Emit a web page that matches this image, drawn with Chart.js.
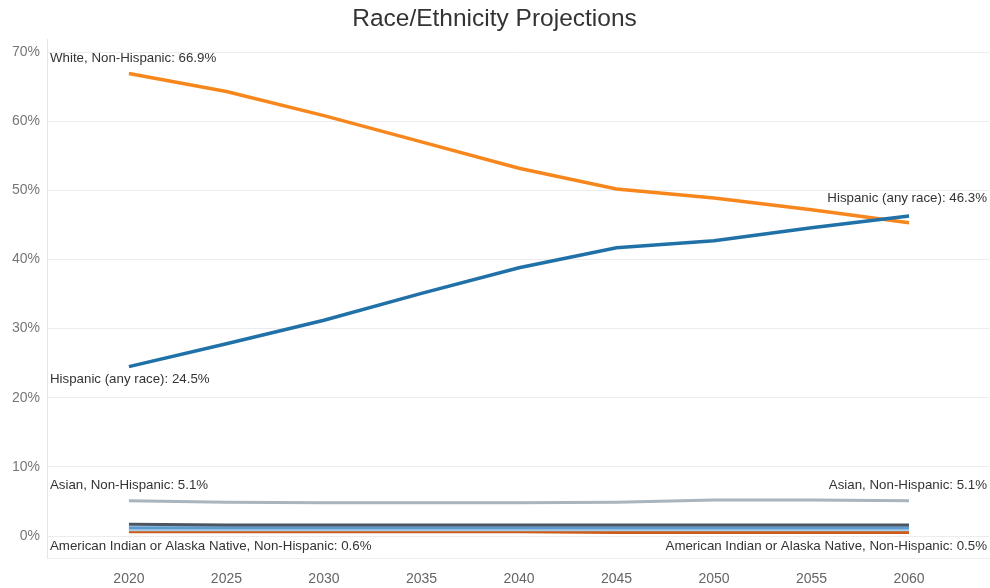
<!DOCTYPE html>
<html>
<head>
<meta charset="utf-8">
<script src="https://cdn.jsdelivr.net/npm/chart.js@4.4.1/dist/chart.umd.min.js"></script>
<style>
  body { margin: 0; background: #fff; }
</style>
</head>
<body>
<canvas id="chart" width="990" height="588"></canvas>
<script>
// 年（5年ごと）
const years = [2020, 2025, 2030, 2035, 2040, 2045, 2050, 2055, 2060];
const yTicks = [0, 10, 20, 30, 40, 50, 60, 70];

// 各グループの割合（%）
const white    = [66.9, 64.3, 60.8, 57.0, 53.2, 50.2, 48.9, 47.2, 45.3];
const hispanic = [24.5, 27.8, 31.2, 35.1, 38.8, 41.7, 42.7, 44.6, 46.3];
const asian    = [5.1, 4.9, 4.8, 4.8, 4.8, 4.9, 5.2, 5.2, 5.1];
const black    = [1.7, 1.6, 1.6, 1.6, 1.6, 1.6, 1.6, 1.6, 1.6];
const twoMore  = [1.2, 1.2, 1.2, 1.2, 1.2, 1.2, 1.2, 1.2, 1.2];
const other    = [0.9, 0.9, 0.9, 0.9, 0.9, 0.9, 0.9, 0.9, 0.9];
const aian     = [0.6, 0.6, 0.6, 0.6, 0.6, 0.5, 0.5, 0.5, 0.5];

function toPoints(arr) {
    return arr.map((v, i) => ({ x: years[i], y: v }));
}

const datasets = [
    { label: 'Black, Non-Hispanic', data: toPoints(black), borderColor: '#4b5661', borderWidth: 3 },
    { label: 'Two or More Races, Non-Hispanic', data: toPoints(twoMore), borderColor: '#5b9bd0', borderWidth: 3 },
    { label: 'Native Hawaiian or Pacific Islander, Non-Hispanic', data: toPoints(other), borderColor: '#a6cde8', borderWidth: 3 },
    { label: 'American Indian or Alaska Native, Non-Hispanic', data: toPoints(aian), borderColor: '#cc5a19', borderWidth: 3 },
    { label: 'Asian, Non-Hispanic', data: toPoints(asian), borderColor: '#a9b4bd', borderWidth: 3 },
    { label: 'Hispanic (any race)', data: toPoints(hispanic), borderColor: '#2171a9', borderWidth: 3.5 },
    { label: 'White, Non-Hispanic', data: toPoints(white), borderColor: '#f7871c', borderWidth: 3.5 }
];
datasets.forEach(d => { d.pointRadius = 0; d.fill = false; d.tension = 0; });

// ラベル: [データセット番号, 点の番号, 縦のずれ]
const marks = [
    [6, 0, -15],
    [5, 0, 13],
    [5, 8, -18],
    [4, 0, -15],
    [4, 8, -15],
    [3, 0, 14],
    [3, 8, 14]
];

const markLabels = {
    id: 'markLabels',
    afterDatasetsDraw(chart) {
        const ctx = chart.ctx;
        const area = chart.chartArea;
        ctx.save();
        ctx.font = '13.3px "Liberation Sans", Arial, sans-serif';
        ctx.fillStyle = '#333';
        ctx.textBaseline = 'middle';
        ctx.textAlign = 'left';
        marks.forEach(([di, pi, dy]) => {
            const ds = chart.data.datasets[di];
            const pt = ds.data[pi];
            const text = ds.label + ': ' + pt.y + '%';
            const w = ctx.measureText(text).width;
            let x = chart.scales.x.getPixelForValue(pt.x) - w / 2;
            x = Math.max(area.left + 3, Math.min(area.right - 2 - w, x));
            const y = chart.scales.y.getPixelForValue(pt.y) + dy;
            ctx.fillText(text, x, y);
        });
        ctx.restore();
    }
};

const ctx = document.getElementById('chart').getContext('2d');
new Chart(ctx, {
    type: 'line',
    data: { datasets: datasets },
    options: {
        responsive: false,
        animation: false,
        layout: { padding: { left: 0, right: 1, top: 0, bottom: 0 } },
        plugins: {
            legend: { display: false },
            tooltip: { enabled: false },
            title: {
                display: true,
                text: 'Race/Ethnicity Projections',
                color: '#333',
                font: { size: 24.5, family: '"Liberation Sans", Arial, sans-serif', weight: 'normal' },
                padding: { top: 5, bottom: 5.2 }
            }
        },
        scales: {
            x: {
                type: 'linear',
                min: 2015.8,
                max: 2064.1,
                afterBuildTicks: axis => { axis.ticks = years.map(v => ({ value: v })); },
                afterFit: axis => { axis.height = 30; },
                grid: { display: false },
                border: { display: true, color: '#eeeeee' },
                ticks: {
                    padding: 5,
                    color: '#666',
                    font: { size: 14, family: '"Liberation Sans", Arial, sans-serif' },
                    callback: v => String(v)
                }
            },
            y: {
                min: -3.18,
                max: 71.8,
                afterBuildTicks: axis => { axis.ticks = yTicks.map(v => ({ value: v })); },
                afterFit: axis => { axis.width = 47; },
                grid: { color: '#ececec', drawTicks: false },
                border: { display: true, color: '#e6e6e6' },
                ticks: {
                    padding: 7,
                    color: '#777',
                    font: { size: 14, family: '"Liberation Sans", Arial, sans-serif' },
                    callback: v => v + '%'
                }
            }
        }
    },
    plugins: [markLabels]
});
</script>
</body>
</html>
